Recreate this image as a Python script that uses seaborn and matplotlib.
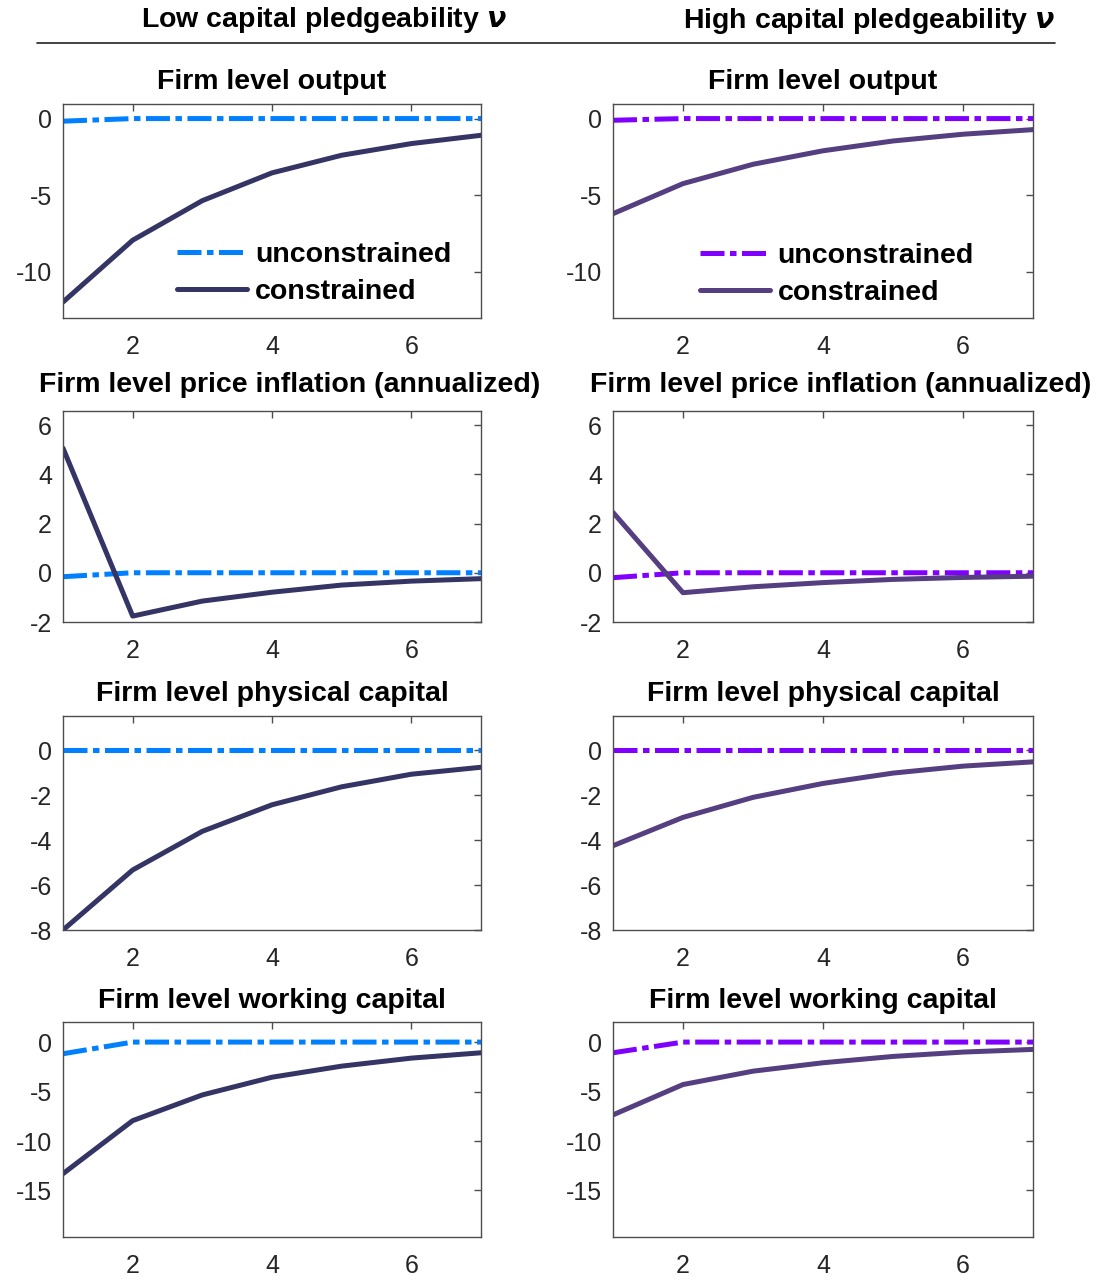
import numpy as np
import pandas as pd
import seaborn as sns
import matplotlib
matplotlib.use("Agg")
import matplotlib.pyplot as plt
from matplotlib.lines import Line2D

# ---------------- data ----------------
periods = [1, 2, 3, 4, 5, 6, 7]

# Low capital pledgeability
low_output_unc = [-0.17, 0, 0, 0, 0, 0, 0]
low_output_con = [-11.96, -7.93, -5.35, -3.54, -2.39, -1.63, -1.09]
low_infl_unc = [-0.16, 0, 0, 0, 0, 0, 0]
low_infl_con = [5.06, -1.76, -1.15, -0.79, -0.50, -0.34, -0.24]
low_kphys_unc = [0, 0, 0, 0, 0, 0, 0]
low_kphys_con = [-8.0, -5.33, -3.61, -2.43, -1.63, -1.07, -0.76]
low_kwork_unc = [-1.18, 0, 0, 0, 0, 0, 0]
low_kwork_con = [-13.3, -7.94, -5.34, -3.55, -2.43, -1.62, -1.08]

# High capital pledgeability
high_output_unc = [-0.11, 0, 0, 0, 0, 0, 0]
high_output_con = [-6.2, -4.24, -2.98, -2.10, -1.46, -1.02, -0.72]
high_infl_unc = [-0.2, 0, 0, 0, 0, 0, 0]
high_infl_con = [2.45, -0.81, -0.57, -0.40, -0.27, -0.19, -0.14]
high_kphys_unc = [0, 0, 0, 0, 0, 0, 0]
high_kphys_con = [-4.25, -2.99, -2.10, -1.48, -1.02, -0.71, -0.52]
high_kwork_unc = [-1.08, 0, 0, 0, 0, 0, 0]
high_kwork_con = [-7.36, -4.29, -2.94, -2.09, -1.45, -1.01, -0.74]

titles = ["Firm level output",
          "Firm level price inflation (annualized)",
          "Firm level physical capital",
          "Firm level working capital"]
col_headers = ["Low capital pledgeability $\\boldsymbol{\\nu}$",
               "High capital pledgeability $\\boldsymbol{\\nu}$"]
legend_labels = ["unconstrained", "constrained"]

yticks = [[0, -5, -10], [-2, 0, 2, 4, 6], [-8, -6, -4, -2, 0], [-15, -10, -5, 0]]
ylims = [(-13, 0.95), (-2, 6.57), (-8, 1.52), (-19.7, 2.03)]
xticks = [2, 4, 6]

# ---------------- style ----------------
sns.set_theme(style="white")
plt.rcParams['font.family'] = ['Liberation Sans', 'DejaVu Sans']
plt.rcParams['mathtext.fontset'] = 'custom'
plt.rcParams['mathtext.it'] = 'Liberation Serif:italic:bold'
plt.rcParams['mathtext.bf'] = 'Liberation Serif:italic:bold'
plt.rcParams['axes.unicode_minus'] = False

colors = {
    "low": ("#0080ff", "#343465"),
    "high": ("#8000ff", "#553f80"),
}

data = {
    "low": [(low_output_unc, low_output_con), (low_infl_unc, low_infl_con),
            (low_kphys_unc, low_kphys_con), (low_kwork_unc, low_kwork_con)],
    "high": [(high_output_unc, high_output_con), (high_infl_unc, high_infl_con),
             (high_kphys_unc, high_kphys_con), (high_kwork_unc, high_kwork_con)],
}

W, H = 1103, 1280
fig = plt.figure(figsize=(W / 100, H / 100), dpi=100)

col_x = [(63, 481), (613, 1033)]
row_y = [(104, 318), (411, 622), (716, 930), (1022, 1237)]
title_pads = [11, 14, 11, 10]

dash = (0, (4.8, 1.1, 1.3, 1.1))
lw = 3.6
spine_col = "#4d4d4d"
tick_col = "#262626"

for c, key in enumerate(["low", "high"]):
    x0, x1 = col_x[c]
    for r in range(4):
        y0, y1 = row_y[r]
        ax = fig.add_axes([x0 / W, 1 - y1 / H, (x1 - x0) / W, (y1 - y0) / H])
        unc, con = data[key][r]
        df = pd.DataFrame({"period": periods, "unc": unc, "con": con})
        sns.lineplot(data=df, x="period", y="unc", ax=ax, color=colors[key][0],
                     lw=lw, linestyle=dash, label=legend_labels[0],
                     legend=False, dash_capstyle="butt")
        sns.lineplot(data=df, x="period", y="con", ax=ax, color=colors[key][1],
                     lw=lw, label=legend_labels[1], legend=False)
        ax.set_xlim(1, 7)
        ax.set_ylim(*ylims[r])
        ax.set_xticks(xticks)
        ax.set_yticks(yticks[r])
        ax.set_xlabel("")
        ax.set_ylabel("")
        for s in ax.spines.values():
            s.set_color(spine_col)
            s.set_linewidth(1.0)
        ax.tick_params(direction="in", length=5, width=1.0, color=spine_col,
                       top=True, right=True, labelsize=18, labelcolor=tick_col)
        ax.tick_params(axis="x", pad=12)
        ax.tick_params(axis="y", pad=8)
        tx = 0.5 + (18 / 418 if r == 1 else 0)
        ax.set_title(titles[r], fontsize=20.5, fontweight="bold", pad=title_pads[r],
                     x=tx, color="black")
        if r == 0:
            anchor = (0.273, 0.355) if c == 0 else (0.207, 0.350)
            handles = [Line2D([], [], color=colors[key][0], lw=lw, linestyle=dash,
                              dash_capstyle="butt"),
                       Line2D([], [], color=colors[key][1], lw=lw)]
            ax.legend(handles, legend_labels, loc="upper left", bbox_to_anchor=anchor,
                      frameon=False, borderpad=0, borderaxespad=0,
                      handlelength=2.45, handletextpad=0.28, labelspacing=0.39,
                      prop={"weight": "bold", "size": 20.5})
            for t in ax.get_legend().get_texts():
                t.set_color("black")

# column headers and rule
fig.text(324 / W, 1 - 20 / H, col_headers[0], ha="center", va="center",
         fontsize=20.5, fontweight="bold", color="black")
fig.text(869 / W, 1 - 21 / H, col_headers[1], ha="center", va="center",
         fontsize=20.5, fontweight="bold", color="black")
fig.add_artist(Line2D([37 / W, 1055 / W], [1 - 43 / H, 1 - 43 / H],
                      color="#222222", lw=1.2, transform=fig.transFigure))

fig.savefig("out.png", dpi=100)
